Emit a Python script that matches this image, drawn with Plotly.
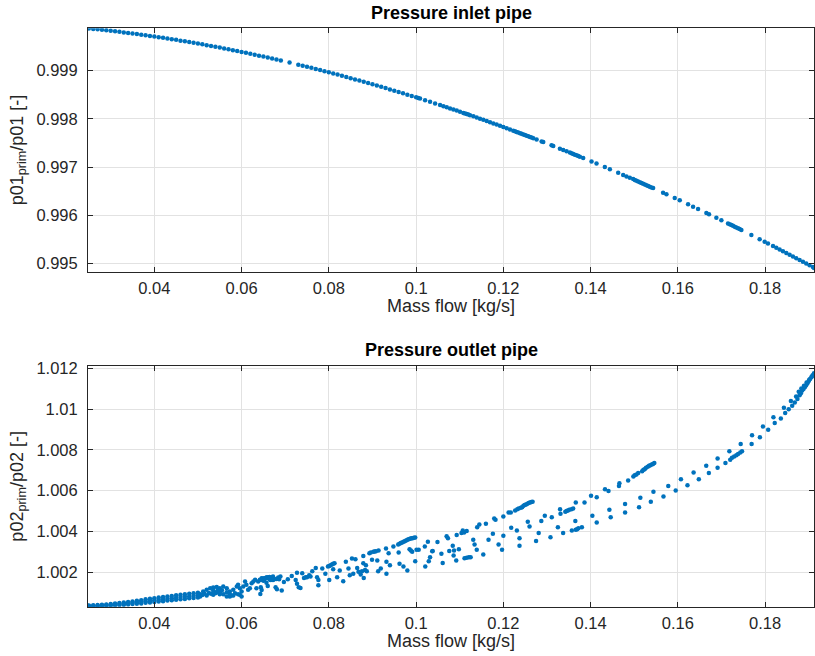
import plotly.graph_objects as go

FONT = "Liberation Sans, Arial, Helvetica, sans-serif"
BLUE = "#0072BD"

# ---------------- tick labels ----------------
x_tick_vals = [0.04, 0.06, 0.08, 0.10, 0.12, 0.14, 0.16, 0.18]
x_tick_text = ["0.04", "0.06", "0.08", "0.1", "0.12", "0.14", "0.16", "0.18"]
in_tick_vals = [0.995, 0.996, 0.997, 0.998, 0.999]
in_tick_text = ["0.995", "0.996", "0.997", "0.998", "0.999"]
out_tick_vals = [1.002, 1.004, 1.006, 1.008, 1.010, 1.012]
out_tick_text = ["1.002", "1.004", "1.006", "1.008", "1.01", "1.012"]

# ---------------- inlet pipe (top) ----------------
inlet_dense_x = [0.025, 0.026, 0.027, 0.028, 0.029, 0.030, 0.031, 0.032, 0.033, 0.034,
                 0.035, 0.036, 0.037, 0.038, 0.039, 0.040, 0.041, 0.042, 0.043, 0.044,
                 0.045, 0.046, 0.047, 0.048, 0.049, 0.050, 0.051, 0.052, 0.053, 0.054,
                 0.055, 0.056, 0.057, 0.058, 0.059, 0.060, 0.061, 0.062, 0.063, 0.064,
                 0.065, 0.066, 0.067, 0.068, 0.069, 0.071, 0.073, 0.074,
                 0.075, 0.076, 0.077, 0.078, 0.079, 0.080, 0.081, 0.082, 0.083, 0.084,
                 0.085, 0.086, 0.087, 0.088, 0.089, 0.090, 0.091, 0.092, 0.093, 0.094,
                 0.095, 0.096, 0.097, 0.098, 0.099, 0.100, 0.1005, 0.1009]
inlet_dense_y = [0.999877, 0.999867, 0.999858, 0.999848, 0.999838, 0.999828, 0.999817, 0.999806, 0.999795, 0.999784,
                 0.999773, 0.999760, 0.999747, 0.999735, 0.999722, 0.999710, 0.999696, 0.999682, 0.999668, 0.999654,
                 0.999640, 0.999624, 0.999609, 0.999594, 0.999578, 0.999563, 0.999547, 0.999530, 0.999513, 0.999497,
                 0.999480, 0.999462, 0.999444, 0.999426, 0.999408, 0.999390, 0.999371, 0.999352, 0.999332, 0.999313,
                 0.999294, 0.999273, 0.999253, 0.999232, 0.999212, 0.999169, 0.999126, 0.999104,
                 0.999082, 0.999059, 0.999036, 0.999013, 0.998990, 0.998967, 0.998943, 0.998919, 0.998894, 0.998870,
                 0.998846, 0.998820, 0.998795, 0.998770, 0.998744, 0.998719, 0.998692, 0.998665, 0.998639, 0.998612,
                 0.998586, 0.998558, 0.998530, 0.998503, 0.998475, 0.998447, 0.998433, 0.998421]
inlet_sparse = [
    (0.10206, 0.998387), (0.10320, 0.998354), (0.10435, 0.998321), (0.10549, 0.998287), (0.10626, 0.998264),
    (0.10702, 0.998241), (0.10778, 0.998218), (0.10855, 0.998195), (0.10931, 0.998172), (0.11007, 0.998149),
    (0.11083, 0.998125), (0.11122, 0.998113), (0.11160, 0.998101), (0.11198, 0.998089), (0.11236, 0.998077),
    (0.11313, 0.998053), (0.11389, 0.998029), (0.11465, 0.998005), (0.11541, 0.997981), (0.11618, 0.997956),
    (0.11694, 0.997931), (0.11770, 0.997907), (0.11846, 0.997882), (0.11923, 0.997857), (0.11999, 0.997832),
    (0.12075, 0.997807), (0.12152, 0.997781), (0.12228, 0.997755), (0.12266, 0.997742), (0.12304, 0.997729),
    (0.12342, 0.997716), (0.12381, 0.997703), (0.12419, 0.997690), (0.12457, 0.997678), (0.12495, 0.997665),
    (0.12533, 0.997652), (0.12571, 0.997638), (0.12610, 0.997625), (0.12648, 0.997612), (0.12686, 0.997598),
    (0.12762, 0.997572), (0.12877, 0.997532), (0.12915, 0.997519), (0.13105, 0.997452), (0.13144, 0.997438),
    (0.13296, 0.997383), (0.13372, 0.997356), (0.13449, 0.997328), (0.13525, 0.997301), (0.13563, 0.997287),
    (0.13601, 0.997273), (0.13640, 0.997259), (0.13678, 0.997245), (0.13716, 0.997231), (0.13754, 0.997217),
    (0.13830, 0.997189), (0.14021, 0.997118), (0.14135, 0.997074), (0.14326, 0.997001), (0.14441, 0.996956),
    (0.14632, 0.996882), (0.14746, 0.996837), (0.14822, 0.996807), (0.14898, 0.996777), (0.14975, 0.996751),
    (0.15013, 0.996732), (0.15051, 0.996717), (0.15089, 0.996702), (0.15127, 0.996686), (0.15165, 0.996671),
    (0.15204, 0.996656), (0.15242, 0.996640), (0.15280, 0.996625), (0.15318, 0.996610), (0.15356, 0.996595),
    (0.15394, 0.996579), (0.15433, 0.996564), (0.15661, 0.996470), (0.15738, 0.996438), (0.15928, 0.996359),
    (0.16043, 0.996310), (0.16234, 0.996229), (0.16348, 0.996180), (0.16463, 0.996131), (0.16653, 0.996049),
    (0.16714, 0.996022), (0.16882, 0.995949), (0.16997, 0.995899), (0.17149, 0.995832), (0.17187, 0.995815),
    (0.17226, 0.995798), (0.17264, 0.995781), (0.17302, 0.995765), (0.17340, 0.995748), (0.17378, 0.995731),
    (0.17416, 0.995714), (0.17455, 0.995697), (0.17684, 0.995592), (0.17874, 0.995503), (0.17989, 0.995450),
    (0.18065, 0.995415), (0.18180, 0.995361), (0.18256, 0.995325), (0.18332, 0.995290), (0.18408, 0.995254),
    (0.18485, 0.995218), (0.18561, 0.995182), (0.18637, 0.995146), (0.18713, 0.995109), (0.18790, 0.995072),
    (0.18866, 0.995036), (0.18942, 0.994999), (0.19018, 0.994962), (0.19095, 0.994925), (0.19120, 0.994905),
]

# ---------------- outlet pipe (bottom) ----------------
outlet_band_x = [0.025, 0.026, 0.027, 0.028, 0.029, 0.030, 0.031, 0.032, 0.033, 0.034, 0.035, 0.036, 0.037,
                 0.038, 0.039, 0.040, 0.041, 0.042, 0.043, 0.044, 0.045, 0.046, 0.047, 0.048, 0.049, 0.050]
outlet_band_upper = [1.00037, 1.00038, 1.00039, 1.00041, 1.00042, 1.00044, 1.00047, 1.00049, 1.00052, 1.00054,
                     1.00057, 1.00060, 1.00063, 1.00067, 1.00070, 1.00073, 1.00076, 1.00079, 1.00081, 1.00084,
                     1.00087, 1.00090, 1.00092, 1.00095, 1.00097, 1.00100]
outlet_band_mid = [1.00034, 1.00035, 1.00036, 1.00037, 1.00039, 1.00040, 1.00042, 1.00044, 1.00046, 1.00048,
                   1.00050, 1.00053, 1.00055, 1.00058, 1.00060, 1.00063, 1.00065, 1.00068, 1.00070, 1.00073,
                   1.00075, 1.00078, 1.00080, 1.00082, 1.00085, 1.00087]
outlet_band_lower = [1.00031, 1.00032, 1.00033, 1.00034, 1.00035, 1.00036, 1.00038, 1.00039, 1.00040, 1.00042,
                     1.00044, 1.00045, 1.00047, 1.00050, 1.00052, 1.00054, 1.00056, 1.00058, 1.00061, 1.00063,
                     1.00065, 1.00067, 1.00069, 1.00072, 1.00074, 1.00076]

outlet_pts_b = [
    (0.0512, 1.00105), (0.0520, 1.00114), (0.0528, 1.00122), (0.0535, 1.00125), (0.0543, 1.00128),
    (0.0550, 1.00122), (0.0558, 1.00130), (0.0566, 1.00122), (0.0573, 1.00105), (0.0581, 1.00114),
    (0.0589, 1.00130), (0.0592, 1.00138), (0.0596, 1.00122), (0.0600, 1.00105), (0.0604, 1.00130),
    (0.0608, 1.00154), (0.0611, 1.00138), (0.0615, 1.00114), (0.0619, 1.00122), (0.0623, 1.00146),
    (0.0627, 1.00154), (0.0631, 1.00163), (0.0634, 1.00122), (0.0638, 1.00154), (0.0642, 1.00163),
    (0.0646, 1.00171), (0.0650, 1.00158), (0.0653, 1.00167), (0.0657, 1.00174), (0.0661, 1.00171),
    (0.0665, 1.00163), (0.0669, 1.00174), (0.0672, 1.00179), (0.0680, 1.00167), (0.0684, 1.00174),
    (0.0505, 1.00081), (0.0520, 1.00086), (0.0535, 1.00089), (0.0550, 1.00092), (0.0566, 1.00081),
    (0.0573, 1.00081), (0.0581, 1.00086), (0.0592, 1.00092), (0.0596, 1.00089), (0.0600, 1.00081),
    (0.0535, 1.00109), (0.0543, 1.00102), (0.0550, 1.00102), (0.0558, 1.00092), (0.0566, 1.00102),
    (0.0573, 1.00092), (0.0577, 1.00086), (0.0585, 1.00097), (0.0505, 1.00092), (0.0510, 1.00088),
    (0.0515, 1.00094), (0.0525, 1.00098), (0.0530, 1.00094), (0.0540, 1.00097), (0.0545, 1.00112),
    (0.0555, 1.00112), (0.0644, 1.00126), (0.0646, 1.00113), (0.0643, 1.00093),
]

outlet_pts_c = [
    (0.0643, 1.00162), (0.0646, 1.00166), (0.0649, 1.00169), (0.0652, 1.00170), (0.0655, 1.00172),
    (0.0658, 1.00174), (0.0661, 1.00175), (0.0664, 1.00177), (0.0657, 1.00149), (0.0660, 1.00133),
    (0.0667, 1.00162), (0.0672, 1.00162), (0.0675, 1.00166), (0.0678, 1.00126), (0.0681, 1.00116),
    (0.0686, 1.00166), (0.0689, 1.00179), (0.0692, 1.00110), (0.0697, 1.00152), (0.0706, 1.00166),
    (0.0715, 1.00182), (0.0724, 1.00162), (0.0727, 1.00198), (0.0727, 1.00143), (0.0731, 1.00126),
    (0.0735, 1.00123), (0.0739, 1.00195), (0.0743, 1.00172), (0.0747, 1.00175), (0.0750, 1.00175),
    (0.0755, 1.00185), (0.0758, 1.00179), (0.0762, 1.00205), (0.0770, 1.00221), (0.0773, 1.00175),
    (0.0776, 1.00162), (0.0776, 1.00136), (0.0785, 1.00218), (0.0792, 1.00192), (0.0798, 1.00228),
    (0.0801, 1.00231), (0.0804, 1.00234), (0.0807, 1.00238), (0.0810, 1.00241), (0.0813, 1.00244),
    (0.0801, 1.00162), (0.0810, 1.00215), (0.0819, 1.00175), (0.0825, 1.00208), (0.0833, 1.00156),
    (0.0839, 1.00251), (0.0845, 1.00218), (0.0848, 1.00185), (0.0853, 1.00267), (0.0856, 1.00192),
    (0.0861, 1.00264), (0.0865, 1.00221), (0.0868, 1.00202), (0.0873, 1.00189), (0.0876, 1.00205),
    (0.0879, 1.00244), (0.0879, 1.00280), (0.0880, 1.00172), (0.0883, 1.00211), (0.0885, 1.00234),
    (0.0887, 1.00205), (0.0893, 1.00293), (0.0896, 1.00297), (0.0899, 1.00261), (0.0902, 1.00300),
    (0.0905, 1.00302), (0.0908, 1.00303), (0.0911, 1.00257), (0.0913, 1.00205), (0.0914, 1.00307),
    (0.0919, 1.00218), (0.0931, 1.00316), (0.0932, 1.00251), (0.0932, 1.00192), (0.0937, 1.00293),
    (0.0940, 1.00234), (0.0948, 1.00326), (0.0959, 1.00336), (0.0962, 1.00339), (0.0965, 1.00343),
    (0.0968, 1.00346), (0.0971, 1.00349), (0.0974, 1.00352), (0.0977, 1.00356), (0.0980, 1.00359),
    (0.0983, 1.00362), (0.0986, 1.00364), (0.0989, 1.00366), (0.0992, 1.00367), (0.0995, 1.00369),
    (0.0998, 1.00370), (0.0960, 1.00297), (0.0962, 1.00241), (0.0971, 1.00228), (0.0980, 1.00208),
    (0.0985, 1.00313), (0.0988, 1.00307), (0.0991, 1.00300), (0.0998, 1.00254), (0.1001, 1.00310),
    (0.1006, 1.00310), (0.1020, 1.00326), (0.1021, 1.00228), (0.1027, 1.00349), (0.1029, 1.00254),
    (0.1032, 1.00274), (0.1037, 1.00303),
]

outlet_pts_d = [
    (0.1038, 1.00304), (0.1049, 1.00348), (0.1058, 1.00291), (0.1061, 1.00245), (0.1070, 1.00376),
    (0.1073, 1.00366), (0.1076, 1.00304), (0.1084, 1.00330), (0.1086, 1.00282), (0.1087, 1.00307),
    (0.1092, 1.00258), (0.1093, 1.00382), (0.1098, 1.00313), (0.1104, 1.00392), (0.1107, 1.00405),
    (0.1110, 1.00395), (0.1111, 1.00268), (0.1116, 1.00402), (0.1116, 1.00271), (0.1121, 1.00274),
    (0.1125, 1.00274), (0.1131, 1.00359), (0.1134, 1.00336), (0.1139, 1.00310), (0.1140, 1.00421),
    (0.1145, 1.00434), (0.1154, 1.00287), (0.1160, 1.00438), (0.1166, 1.00359), (0.1176, 1.00389),
    (0.1179, 1.00464), (0.1182, 1.00457), (0.1189, 1.00336), (0.1197, 1.00310), (0.1200, 1.00379),
    (0.1200, 1.00473), (0.1212, 1.00493), (0.1217, 1.00493), (0.1218, 1.00418), (0.1227, 1.00503),
    (0.1231, 1.00405), (0.1232, 1.00509), (0.1235, 1.00513), (0.1237, 1.00366), (0.1237, 1.00330),
    (0.1240, 1.00516), (0.1243, 1.00519), (0.1246, 1.00526), (0.1249, 1.00529), (0.1252, 1.00532),
    (0.1255, 1.00536), (0.1258, 1.00539), (0.1261, 1.00542), (0.1264, 1.00544), (0.1267, 1.00545),
    (0.1256, 1.00447), (0.1260, 1.00424), (0.1275, 1.00353), (0.1281, 1.00392), (0.1287, 1.00451),
    (0.1295, 1.00477), (0.1308, 1.00372), (0.1311, 1.00470), (0.1325, 1.00421), (0.1330, 1.00509),
    (0.1331, 1.00487), (0.1337, 1.00392), (0.1342, 1.00496), (0.1345, 1.00500), (0.1348, 1.00503),
    (0.1351, 1.00506), (0.1356, 1.00509), (0.1360, 1.00513), (0.1357, 1.00405), (0.1365, 1.00451),
    (0.1366, 1.00542), (0.1366, 1.00408), (0.1369, 1.00411), (0.1372, 1.00415), (0.1380, 1.00421),
    (0.1386, 1.00542), (0.1401, 1.00575), (0.1404, 1.00477), (0.1414, 1.00568), (0.1414, 1.00444),
    (0.1433, 1.00607), (0.1441, 1.00598), (0.1443, 1.00506), (0.1446, 1.00470),
]

outlet_pts_e = [
    (0.1465, 1.00623), (0.1466, 1.00636), (0.1479, 1.00535), (0.1479, 1.00493), (0.1486, 1.00650),
    (0.1498, 1.00669), (0.1501, 1.00676), (0.1505, 1.00679), (0.1509, 1.00686), (0.1511, 1.00519),
    (0.1514, 1.00565), (0.1518, 1.00695), (0.1521, 1.00702), (0.1524, 1.00705), (0.1527, 1.00712),
    (0.1531, 1.00717), (0.1534, 1.00722), (0.1537, 1.00725), (0.1540, 1.00728), (0.1543, 1.00731),
    (0.1546, 1.00735), (0.1538, 1.00545), (0.1544, 1.00594), (0.1567, 1.00571), (0.1578, 1.00623),
    (0.1595, 1.00601), (0.1607, 1.00656), (0.1622, 1.00627), (0.1636, 1.00689), (0.1648, 1.00656),
    (0.1665, 1.00722), (0.1671, 1.00686), (0.1691, 1.00757), (0.1691, 1.00712), (0.1709, 1.00735),
    (0.1718, 1.00793), (0.1720, 1.00751), (0.1724, 1.00761), (0.1729, 1.00767), (0.1734, 1.00774),
    (0.1738, 1.00780), (0.1743, 1.00787), (0.1747, 1.00793), (0.1744, 1.00829), (0.1769, 1.00829),
    (0.1770, 1.00872), (0.1788, 1.00862), (0.1795, 1.00914), (0.1807, 1.00898), (0.1819, 1.00960),
    (0.1822, 1.00931), (0.1836, 1.00954), (0.1843, 1.01006), (0.1846, 1.00980), (0.1854, 1.00999),
    (0.1859, 1.01039), (0.1862, 1.01016), (0.1868, 1.01032), (0.1871, 1.01062), (0.1874, 1.01049),
    (0.1879, 1.01068), (0.1882, 1.01078), (0.1885, 1.01091), (0.1888, 1.01098), (0.1891, 1.01107),
    (0.1894, 1.01117), (0.1897, 1.01127), (0.1900, 1.01137), (0.1903, 1.01147), (0.1906, 1.01156),
    (0.1909, 1.01166), (0.1912, 1.01176), (0.1877, 1.01085), (0.1883, 1.01101), (0.1889, 1.01114),
    (0.1895, 1.01130), (0.1901, 1.01144), (0.1907, 1.01160),
]

# ---------------- assemble series ----------------
inlet_x = inlet_dense_x + [p[0] for p in inlet_sparse]
inlet_y = inlet_dense_y + [p[1] for p in inlet_sparse]

outlet_x = outlet_band_x * 3
outlet_y = outlet_band_upper + outlet_band_mid + outlet_band_lower
for pts in (outlet_pts_b, outlet_pts_c, outlet_pts_d, outlet_pts_e):
    outlet_x += [p[0] for p in pts]
    outlet_y += [p[1] for p in pts]

W, H = 815, 656
L_PX, R_PX = 88, 814
TOP1, BOT1 = 28.3, 271.7
TOP2, BOT2 = 366.0, 606.7

fig = go.Figure()
mk = dict(size=4.5, color=BLUE, line=dict(width=0))
fig.add_trace(go.Scatter(x=inlet_x, y=inlet_y, mode="markers", marker=mk,
                         xaxis="x", yaxis="y", hoverinfo="x+y"))
fig.add_trace(go.Scatter(x=outlet_x, y=outlet_y, mode="markers", marker=mk,
                         xaxis="x2", yaxis="y2", hoverinfo="x+y"))

tick_font = dict(family=FONT, size=16.5, color="#262626")
title_font = dict(family=FONT, size=18, color="#262626")
common = dict(showline=True, linecolor="#262626", linewidth=1, mirror="ticks",
              ticks="inside", ticklen=5, tickwidth=1, tickcolor="#262626",
              showgrid=True, gridcolor="#e2e2e2", gridwidth=1, zeroline=False,
              tickfont=tick_font, automargin=False)

xdom = [L_PX / W, R_PX / W]
fig.update_layout(
    width=W, height=H,
    margin=dict(l=0, r=0, t=0, b=0),
    paper_bgcolor="white", plot_bgcolor="white",
    showlegend=False,
    xaxis=dict(common, domain=xdom, anchor="y", range=[0.0248, 0.1912],
               tickvals=x_tick_vals, ticktext=x_tick_text, ticklabelstandoff=1,
               title=dict(text="Mass flow [kg/s]", font=title_font, standoff=3)),
    yaxis=dict(common, domain=[1 - BOT1 / H, 1 - TOP1 / H], anchor="x",
               range=[0.99483, 0.99988], tickvals=in_tick_vals, ticktext=in_tick_text,
               ticklabelstandoff=6,
               title=dict(text="p01<sub>prim</sub>/p01 [-]", font=title_font, standoff=8)),
    xaxis2=dict(common, domain=xdom, anchor="y2", range=[0.0248, 0.1912],
                tickvals=x_tick_vals, ticktext=x_tick_text, ticklabelstandoff=1,
                title=dict(text="Mass flow [kg/s]", font=title_font, standoff=3)),
    yaxis2=dict(common, domain=[1 - BOT2 / H, 1 - TOP2 / H], anchor="x2",
                range=[1.00031, 1.01211], tickvals=out_tick_vals, ticktext=out_tick_text,
                ticklabelstandoff=6,
                title=dict(text="p02<sub>prim</sub>/p02 [-]", font=title_font, standoff=8)),
    annotations=[
        dict(text="<b>Pressure inlet pipe</b>", x=(L_PX + R_PX) / 2 / W, y=1 - 13.3 / H,
             xref="paper", yref="paper", xanchor="center", yanchor="middle",
             showarrow=False, font=dict(family=FONT, size=18, color="black")),
        dict(text="<b>Pressure outlet pipe</b>", x=(L_PX + R_PX) / 2 / W, y=1 - 350 / H,
             xref="paper", yref="paper", xanchor="center", yanchor="middle",
             showarrow=False, font=dict(family=FONT, size=18, color="black")),
    ],
)

fig.write_html("out.html")
